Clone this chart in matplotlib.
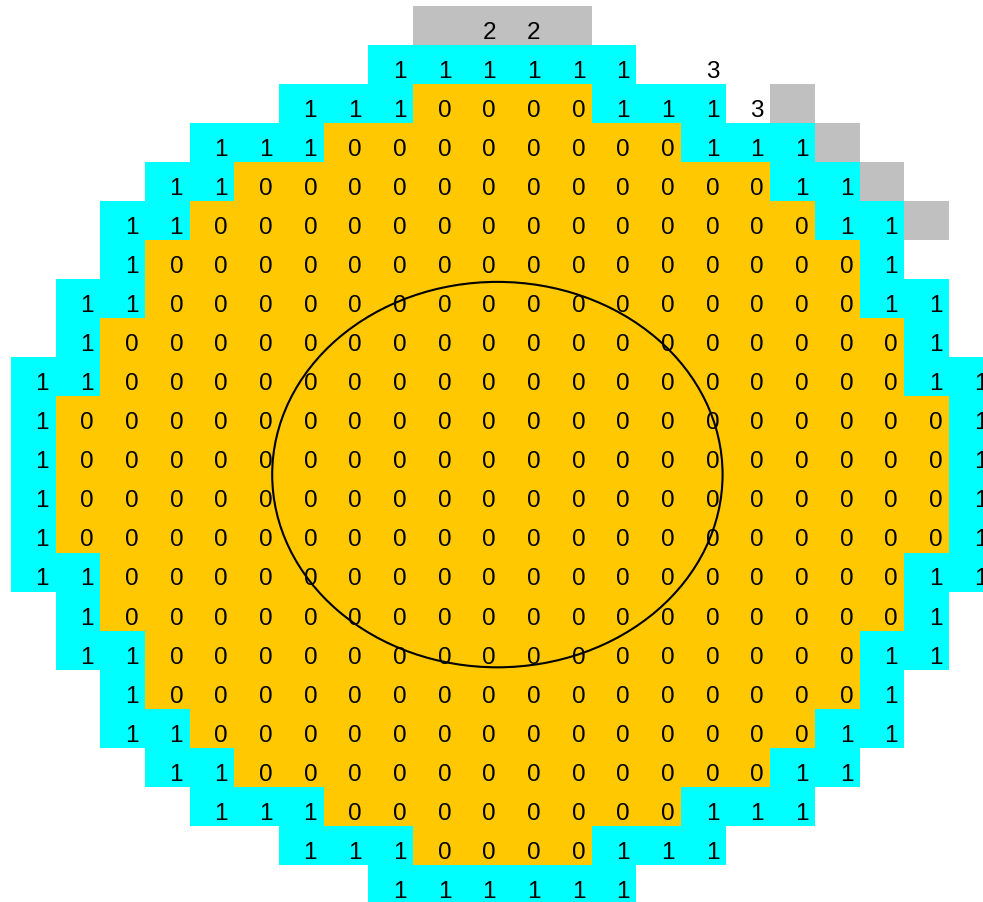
import numpy as np
import matplotlib
matplotlib.use("Agg")
import matplotlib.pyplot as plt
from matplotlib.colors import ListedColormap
from matplotlib.patches import Ellipse

# Grid of cell labels (row by row). ' ' = empty, '0'/'1' = values,
# '2' = grey cell with label, '3' = label without fill, 'x' = grey cell without label
grid_rows = [
    "         x22x         ",
    "        111111 3      ",
    "      1110000111" + "3x    ",
    "    11100000000111x   ",
    "   11000000000000" + "11x  ",
    "  1100000000000000" + "11x ",
    "  1" + "0" * 16 + "1  ",
    " 11" + "0" * 16 + "11 ",
    " 1" + "0" * 18 + "1 ",
    "11" + "0" * 18 + "11",
    "1" + "0" * 20 + "1",
    "1" + "0" * 20 + "1",
    "1" + "0" * 20 + "1",
    "1" + "0" * 20 + "1",
    "11" + "0" * 18 + "11",
    " 1" + "0" * 18 + "1 ",
    " 11" + "0" * 16 + "11 ",
    "  1" + "0" * 16 + "1  ",
    "  11" + "0" * 14 + "11  ",
    "   11" + "0" * 12 + "11   ",
    "    111" + "0" * 8 + "111    ",
    "      111" + "0" * 4 + "111      ",
    "        111111        ",
]

# colour code per character
char_codes = {' ': np.nan, '0': 0, '1': 1, '2': 2, 'x': 2, '3': np.nan}
code_colors = ["#FFC800", "#00FFFF", "#C0C0C0"]
label_chars = "0123"

# circle (ellipse) overlay in cell units
circle_center = (10.886, 12.0)
circle_size = (10.08, 9.87)

nrows = len(grid_rows)
ncols = len(grid_rows[0])
codes = np.array([[char_codes[c] for c in row] for row in grid_rows], dtype=float)

fig = plt.figure(figsize=(9.83, 9.03), dpi=100)
ax = fig.add_axes([0, 0, 1, 1])
cmap = ListedColormap(code_colors)
ax.imshow(np.ma.masked_invalid(codes), cmap=cmap, vmin=-0.5, vmax=2.5,
          extent=(0, ncols, nrows, 0), interpolation="nearest", aspect="auto")

for i, row in enumerate(grid_rows):
    for j, c in enumerate(row):
        if c in label_chars:
            ax.text(j + 0.5 + 0.2, i + 0.5 + 0.16, c, ha="center", va="center",
                    fontsize=17.5, family="Liberation Sans", color="black")

ax.add_patch(Ellipse(circle_center, circle_size[0], circle_size[1],
                     fill=False, edgecolor="black", linewidth=1.5))

ax.set_xlim(-11 / 44.68, (983 - 11) / 44.68)
ax.set_ylim((903 - 7) / 39.05, -7 / 39.05)
ax.axis("off")
fig.savefig("out.png", dpi=100)
